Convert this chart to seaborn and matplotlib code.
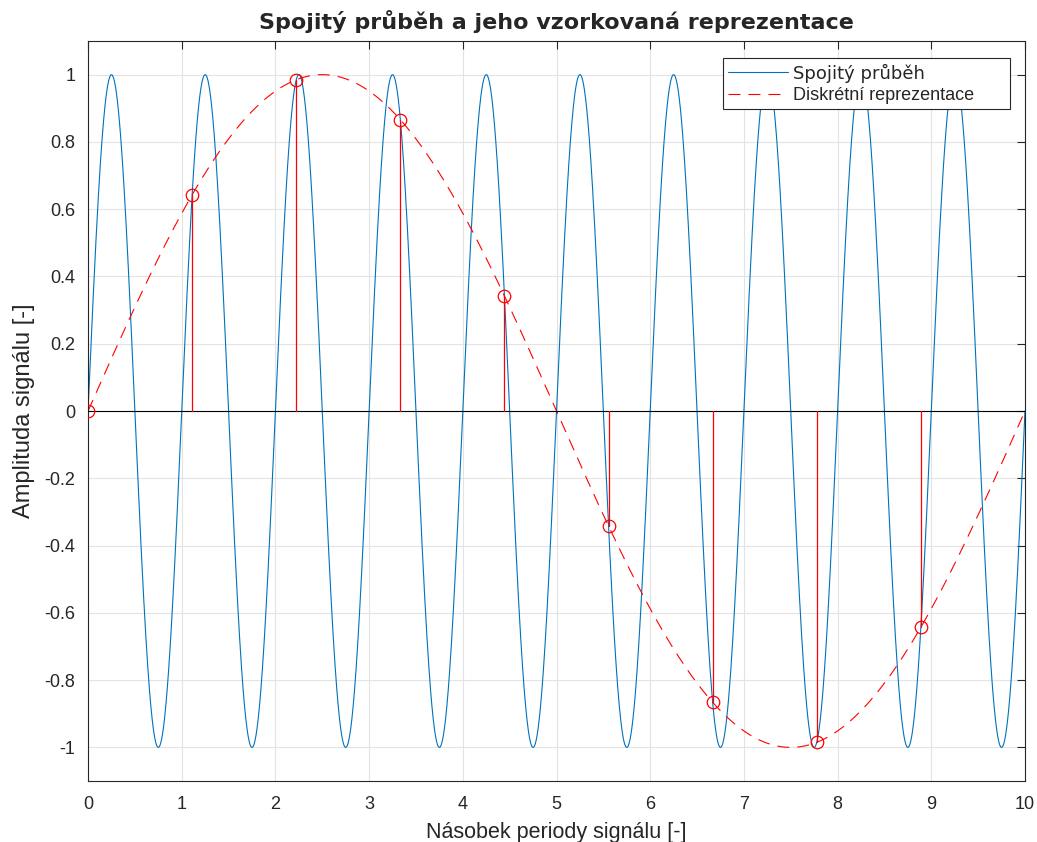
import numpy as np
import matplotlib
matplotlib.use("Agg")
import matplotlib.pyplot as plt
import seaborn as sns

# Signal description
duration = 10.0            # number of signal periods shown
signal_freq = 1.0          # continuous signal: one period per x unit
alias_freq = 0.1           # frequency seen by the sampled sequence
sample_times = [0.0, 1.111, 2.222, 3.333, 4.444, 5.556, 6.667, 7.778, 8.889]
sample_values = [0.0, 0.643, 0.985, 0.866, 0.342, -0.342, -0.866, -0.985, -0.643]

x_ticks = [0, 1, 2, 3, 4, 5, 6, 7, 8, 9, 10]
y_ticks = [-1, -0.8, -0.6, -0.4, -0.2, 0, 0.2, 0.4, 0.6, 0.8, 1]
y_tick_labels = ["-1", "-0.8", "-0.6", "-0.4", "-0.2", "0", "0.2", "0.4", "0.6", "0.8", "1"]

title = "Spojitý průběh a jeho vzorkovaná reprezentace"
x_label = "Násobek periody signálu [-]"
y_label = "Amplituda signálu [-]"
legend_labels = ["Spojitý průběh", "Diskrétní reprezentace"]

sns.set_style("white")
plt.rcParams["font.family"] = ["Liberation Sans", "DejaVu Sans"]

BLUE = "#0072BD"
RED = "#FF0000"
AXC = "#262626"

fig = plt.figure(figsize=(10.37, 8.42), dpi=100)
ax = fig.add_axes([0.0849, 0.0724, 0.9035, 0.8789])

t = np.linspace(0, duration, 6001)
cont = np.sin(2 * np.pi * signal_freq * t)
alias = np.sin(2 * np.pi * alias_freq * t)

# grid
ax.set_axisbelow(True)
ax.grid(True, color="#e3e3e3", linewidth=0.8)

sns.lineplot(x=t, y=cont, ax=ax, color=BLUE, linewidth=0.8, estimator=None,
             sort=False, label=legend_labels[0])
lw = 0.8
sns.lineplot(x=t, y=alias, ax=ax, color=RED, linewidth=lw, estimator=None,
             sort=False, label=legend_labels[1])
ax.lines[-1].set_dashes((8.6 / lw, 5.8 / lw))

# stems with baseline
ax.plot([0, duration], [0, 0], color="black", linewidth=0.8, zorder=3)
for xs, ys in zip(sample_times, sample_values):
    ax.plot([xs, xs], [0, ys], color=RED, linewidth=0.9, zorder=4)
ax.plot(sample_times, sample_values, linestyle="none", marker="o", ms=9,
        mfc="none", mec=RED, mew=0.9, zorder=5)

ax.set_xlim(0, 10)
ax.set_ylim(-1.1, 1.1)
ax.set_xticks(x_ticks)
ax.set_xticklabels([str(v) for v in x_ticks])
ax.set_yticks(y_ticks)
ax.set_yticklabels(y_tick_labels)

ax.tick_params(direction="in", length=6, width=0.8, color=AXC, labelcolor=AXC,
               labelsize=13, top=True, right=True)
ax.tick_params(axis="x", pad=10.5)
ax.tick_params(axis="y", pad=9)
for sp in ax.spines.values():
    sp.set_visible(True)
    sp.set_color(AXC)
    sp.set_linewidth(0.8)

ax.set_title(title, fontsize=16, fontweight="bold", family="DejaVu Sans", pad=9)
ax.set_xlabel(x_label, fontsize=15.5, color=AXC, labelpad=7)
ax.set_ylabel(y_label, fontsize=17, color=AXC, labelpad=7)

leg = ax.legend(loc="upper right", bbox_to_anchor=(0.6777, 0.85, 0.3063, 0.127),
                mode="expand", borderaxespad=0,
                fontsize=13, handlelength=3.3, fancybox=False, framealpha=1,
                edgecolor="#262626", borderpad=0.3, labelspacing=0.25, handletextpad=0.3)
leg.get_frame().set_linewidth(0.8)
leg.get_texts()[0].set_family("DejaVu Sans")

fig.savefig("out.png", dpi=100)
